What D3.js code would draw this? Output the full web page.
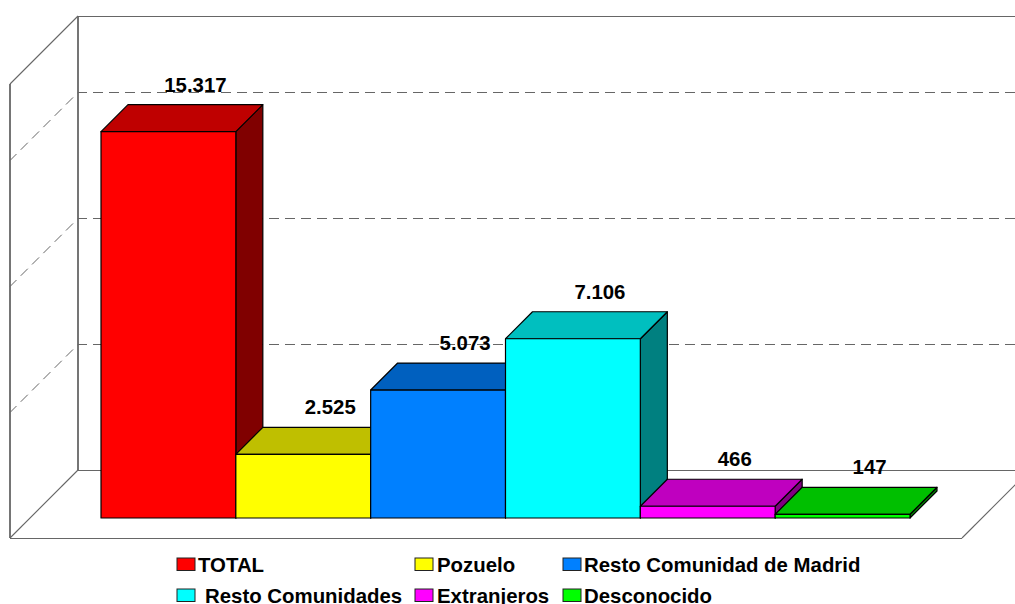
<!DOCTYPE html>
<html><head><meta charset="utf-8">
<script src="https://cdn.jsdelivr.net/npm/d3@7"></script>
<style>html,body{margin:0;padding:0;background:#fff;overflow:hidden}svg{display:block}
text{font-family:"Liberation Sans",Arial,sans-serif;font-weight:bold;fill:#000}</style>
</head><body><svg id="c" width="1015" height="604"></svg>
<script>
const categories = ["TOTAL","Pozuelo","Resto Comunidad de Madrid","Resto Comunidades","Extranjeros","Desconocido"];
const values = [15317,2525,5073,7106,466,147];
const valueLabels = ["15.317","2.525","5.073","7.106","466","147"];
const frontColors = ["#ff0000","#ffff00","#0080ff","#00ffff","#ff00ff","#00ff00"];
const topColors = ["#bf0000","#bfbf00","#0060bf","#00bfbf","#bf00bf","#00bf00"];
const sideColors = ["#800000","#808000","#004080","#008080","#800080","#008000"];
const gridTicks = [5000,10000,15000];
const legendCols = [177,415,563];
const legendTextX = [198,437,584,205,437,584];
const legendRows = [558,589];

const W=1015, H=604;
const svg=d3.select("#c");
const y=d3.scaleLinear().domain([0,18000]).range([470,16]);
const x=d3.scaleBand().domain(categories).range([101,910]);
const wallDepth=68, barDepth=27, baseShift=48;
const gray="#666";
const line=(g,x1,y1,x2,y2,w=1.5)=>g.append("line").attr("x1",x1).attr("y1",y1).attr("x2",x2).attr("y2",y2).attr("stroke",gray).attr("stroke-width",w);

// gridlines
gridTicks.forEach(t=>{
  const yy=Math.round(y(t))+0.5;
  svg.append("path").attr("d",`M${W},${yy}L78,${yy}L10,${yy+wallDepth}`).attr("fill","none")
    .attr("stroke",gray).attr("stroke-width",1).attr("stroke-dasharray","10 6");
});
// walls and floor
const y0=y(0), yT=y(18000);
line(svg,78,yT+0.5,W,yT+0.5,1.2);
line(svg,78,yT,78,y0,1.8);
line(svg,10,yT+wallDepth,10,y0+wallDepth,1.8);
line(svg,10,yT+wallDepth,78,yT,1.1);
line(svg,10,y0+wallDepth,78,y0,1.1);
line(svg,78,y0+0.5,W,y0+0.5,1.2);
line(svg,10,y0+wallDepth+0.5,962,y0+wallDepth+0.5,1.2);
line(svg,962,y0+wallDepth,962+wallDepth,y0,1.1);

// bars
const by=v=>y(v)+baseShift;
const bars=svg.selectAll("g.bar").data(categories).enter().append("g").attr("class","bar")
  .attr("stroke","#000").attr("stroke-width",1.2).attr("stroke-linejoin","round");
bars.each(function(c,i){
  const g=d3.select(this), a=x(c), b=a+x.bandwidth(), t=by(values[i]), f=by(0), d=barDepth;
  g.append("path").attr("fill",sideColors[i]).attr("d",`M${b},${t}L${b+d},${t-d}L${b+d},${f-d}L${b},${f}Z`);
  g.append("path").attr("fill",topColors[i]).attr("d",`M${a},${t}L${a+d},${t-d}L${b+d},${t-d}L${b},${t}Z`);
  g.append("path").attr("fill",frontColors[i]).attr("d",`M${a},${t}L${b},${t}L${b},${f}L${a},${f}Z`);
});
// value labels
svg.selectAll("text.v").data(categories).enter().append("text").attr("class","v")
  .attr("x",c=>x(c)+x.bandwidth()/2+barDepth)
  .attr("y",(c,i)=>by(values[i])-barDepth-13)
  .attr("text-anchor","middle").attr("font-size",20.4).text((c,i)=>valueLabels[i]);
// legend
categories.forEach((c,i)=>{
  const col=i%3,row=Math.floor(i/3);
  svg.append("rect").attr("x",legendCols[col]).attr("y",legendRows[row]).attr("width",18).attr("height",12.5)
    .attr("fill",frontColors[i]).attr("stroke","#222").attr("stroke-width",1);
  svg.append("text").attr("x",legendTextX[i]).attr("y",legendRows[row]+13.5).attr("font-size",20.4).text(c);
});
</script></body></html>
